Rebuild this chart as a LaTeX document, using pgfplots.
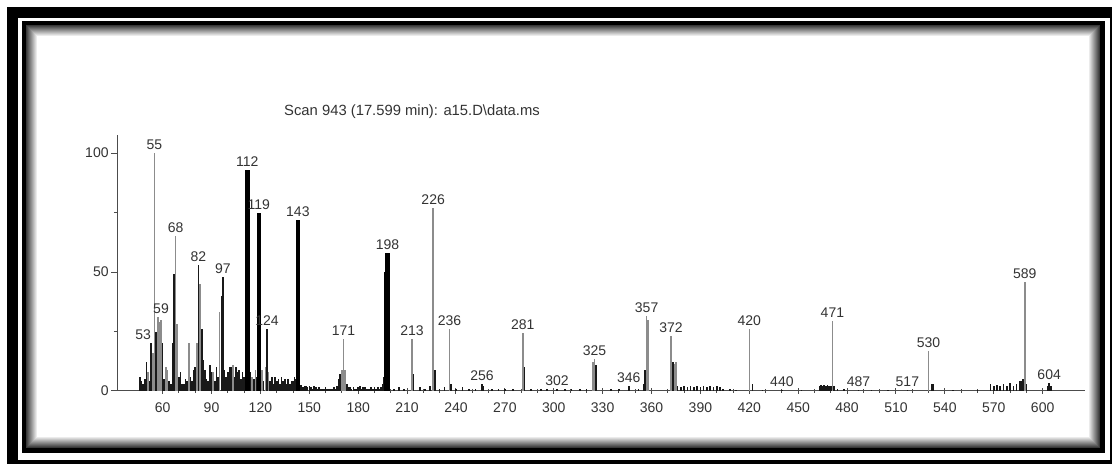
\documentclass[border=0pt]{standalone}
\usepackage{fontspec}
\setmainfont{Liberation Sans}
\usepackage{pgfplots}
\usepackage{pgfplotstable}
\pgfplotsset{compat=1.18}

% Mass spectrum, scan 943: m/z against relative abundance
\pgfplotstableread{
mz int
112 93
119 75
143 72
197 50
198 58
}\thickpeaks

\pgfplotstableread{
mz int
46 6
47 4
48 3
49 5
50 12
52 4
53 20
56 25
60 20
61 5
64 4
65 3
66 20
67 49
70 6
71 8
72 3
73 3
74 5
75 4
77 6
78 4
79 9
80 10
82 53
84 26
85 13
86 9
87 5
88 4
89 11
90 8
92 4
93 10
94 6
96 40
97 48
98 9
99 6
100 8
101 10
102 10
104 6
105 10
106 8
107 9
108 5
109 8
110 6
114 8
116 5
118 6
122 4
124 26
126 4
127 6
128 3
129 6
130 4
131 5
132 3
133 6
134 4
135 5
136 3
137 5
138 3
139 4
140 4
141 6
142 5
144 4
145 2.5
146 1.5
147 2
148 2
149 1.5
150 2
151 1.5
152 1
153 2
154 1.5
155 1
156 1.5
157 1
158 1
159 1
160 1.5
161 1
162 1
163 1
164 1
165 1.5
166 1
167 2
168 5
169 7
173 3
174 1.5
175 1.5
176 1
177 1.5
178 1
179 1
180 1.5
181 2
182 1
183 1.5
184 1.5
185 1
186 1
187 1
188 1.5
189 1
190 1.5
191 1
192 1.5
193 1
194 1.5
195 3
196 6
199 8
202 1
205 1.5
208 1
214 7
218 1.5
221 1
224 2
227 9
230 1
233 1.5
237 3
240 1
244 1.5
248 1
252 1
256 3
257 2
262 1
266 1
270 1
275 1
282 10
286 1
292 1
296 1
302 1
307 1
311 1
316 1
320 1
326 11
335 1
340 1
346 2
352 1
355 3
356 9
373 12
376 2
378 1.5
380 2
382 1.5
384 2
386 1.5
388 2
390 1.5
392 2
394 1.5
396 2
398 1.5
400 2
402 1.5
404 1
408 1
412 0.5
422 3
428 0.5
440 0.5
452 0.5
463 2
464 2.5
465 2
466 2.5
467 2
468 2.5
469 2
470 2
472 2
474 1
478 1
487 0.5
495 0.5
505 0.5
517 0.5
532 3
533 3
545 0.5
560 0.5
568 3
570 2
572 2.5
574 2
576 3
578 2
580 3.5
582 2
584 3
586 4
587 4
588 5
590 3
603 2
604 3.5
605 2
}\thinpeaks

\pgfplotstableread{
mz int
51 8
54 16
55 100
57 31
58 29
59 30
62 10
63 9
68 65
69 28
76 20
81 20
83 45
91 8
95 33
103 11
111 13
113 13
115 6
117 9
120 18
121 9
123 10
125 8
170 9
171 22
172 9
213 22
226 77
236 26
281 24.5
324 12
325 13.3
357 31.5
358 30
372 23
374 11.5
375 12
420 26
471 29.4
530 17
589 46
}\graypeaks

\pgfplotstableread{
mz int lab
55 100 55
59 31 59
68 65 68
82 53 82
97 48 97
112 93 112
119 75 119
124 26 124
143 72 143
171 22 171
198 58 198
213 22 213
226 77 226
236 26 236
256 3 256
281 24.5 281
302 1 302
325 13.3 325
346 2 346
357 31.5 357
372 23 372
420 26 420
440 0.5 440
471 29.4 471
487 0.5 487
517 0.5 517
530 17 530
589 46 589
604 3.5 604
}\peaklabels

\pgfplotstableread{
mz int lab
53 20 53
}\peaklabelsleft

\begin{document}
\begin{tikzpicture}
\path[use as bounding box] (0,0) rectangle (556pt,232pt);
% framed panel, in pixel-like units measured from the top left
\begin{scope}[x=0.5pt,y=-0.5pt,yshift=232pt]
  \fill[white] (0,0) rectangle (1112,464);
  \fill[black] (7,7) rectangle (1140,490);
  \fill[white] (18,18) rectangle (1110,460);
  \fill[black] (22,21) rectangle (1105,453);
  \foreach \i [evaluate=\i as \c using {int(78-7*\i)}] in {0,...,10}{
    \fill[black!\c] ({26+\i},{25+\i}) rectangle ({1100-\i},{448-\i});
  }
  \fill[white] (37,36) rectangle (1089,437);
  \node[font=\fontsize{7.4}{8.5}\selectfont, text=black!80] at (412,112)
    {Scan 943 (17.599 min): a15.D\textbackslash data.ms};
\end{scope}

\begin{axis}[
  at={(58.5pt,36.5pt)}, anchor=south west, scale only axis,
  width=484pt, height=128pt,
  xmin=32, xmax=626, ymin=0, ymax=107.6,
  axis x line=bottom, axis y line=left,
  axis line style={-, draw=black!70, line width=0.5pt},
  xtick={60,90,...,600}, minor x tick num=2,
  ytick={0,50,100}, minor y tick num=1,
  xtick align=center, ytick align=outside,
  major tick length=3pt, minor tick length=1.6pt,
  every tick/.style={black!70, line width=0.5pt},
  tick label style={font=\fontsize{7}{8}\selectfont, text=black!80},
  xticklabel style={yshift=-1pt},
  yticklabel style={inner sep=1pt},
  /pgf/number format/assume math mode=true,
  clip=false,
]
\addplot[ycomb, black!45, line width=0.8pt, mark=none] table[x=mz,y=int] {\graypeaks};
\addplot[ycomb, black!90, line width=0.8pt, mark=none] table[x=mz,y=int] {\thinpeaks};
\addplot[ycomb, black, line width=2.2pt, mark=none] table[x=mz,y=int] {\thickpeaks};
\addplot[draw=none, mark=none, nodes near coords, point meta=explicit symbolic,
  nodes near coords style={font=\fontsize{7}{8}\selectfont, text=black!80, anchor=south, inner sep=1.5pt}]
  table[x=mz,y=int,meta=lab] {\peaklabels};
\addplot[draw=none, mark=none, nodes near coords, point meta=explicit symbolic,
  nodes near coords style={font=\fontsize{7}{8}\selectfont, text=black!80, anchor=south, inner sep=1.5pt, xshift=-4pt}]
  table[x=mz,y=int,meta=lab] {\peaklabelsleft};
\end{axis}
\end{tikzpicture}
\end{document}
